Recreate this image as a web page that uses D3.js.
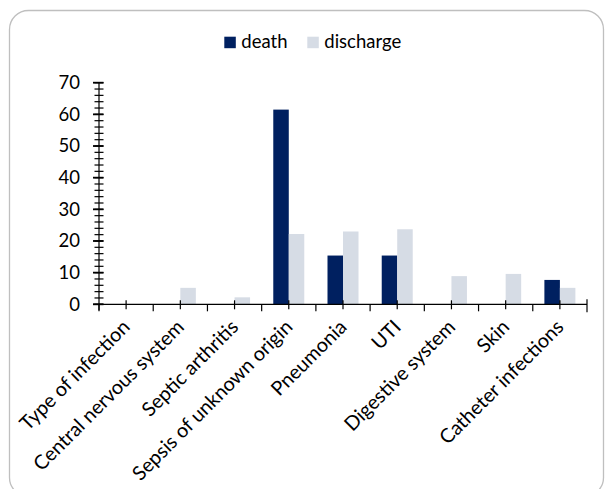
<!DOCTYPE html>
<html>
<head>
<meta charset="utf-8">
<script src="https://cdn.jsdelivr.net/npm/d3@7"></script>
<style>
  html, body { margin: 0; padding: 0; background: #fff; }
  svg { display: block; font-family: Lato, "Open Sans", sans-serif; }
</style>
</head>
<body>
<svg id="chart" width="606" height="489"></svg>
<script>
// Infection type by outcome (% of patients in each outcome group)
const categories = [
  "Type of infection",
  "Central nervous system",
  "Septic arthritis",
  "Sepsis of unknown origin",
  "Pneumonia",
  "UTI",
  "Digestive system",
  "Skin",
  "Catheter infections"
];
const deathValues     = [0, 0, 0, 61.5, 15.4, 15.4, 0, 0, 7.7];
const dischargeValues = [0, 5.2, 2.2, 22.2, 23.0, 23.7, 8.9, 9.6, 5.2];
const seriesNames = ["death", "discharge"];
const yTicks = [0, 10, 20, 30, 40, 50, 60, 70];
const yMinorTicks = d3.range(0, 71, 2);

const colors = { death: "#002060", discharge: "#D6DCE5" };

const svg = d3.select("#chart");

// Rounded frame around the chart area
svg.append("rect")
  .attr("x", 9.5).attr("y", 10.5)
  .attr("width", 594).attr("height", 486)
  .attr("rx", 19).attr("ry", 19)
  .attr("fill", "#fff")
  .attr("stroke", "#BFBFBF")
  .attr("stroke-width", 1.3);

const plot = { left: 99, right: 587, top: 82.7, bottom: 304.3 };

const x = d3.scaleBand()
  .domain(categories)
  .range([plot.left, plot.right])
  .paddingInner(0).paddingOuter(0);

const barW = 15.5;
const y = d3.scaleLinear().domain([0, 70]).range([plot.bottom, plot.top]);

const series = [
  { name: "death", values: deathValues, offset: -barW },
  { name: "discharge", values: dischargeValues, offset: 0 }
];

// Bars
const bars = svg.append("g");
series.forEach(s => {
  bars.selectAll(null)
    .data(categories.map((c, i) => ({ c, v: s.values[i] })).filter(d => d.v > 0))
    .join("rect")
    .attr("x", d => x(d.c) + x.bandwidth() / 2 + s.offset)
    .attr("y", d => y(d.v))
    .attr("width", barW)
    .attr("height", d => y(0) - y(d.v))
    .attr("fill", colors[s.name]);
});

// Y axis: line, minor ticks every 2, major ticks every 10
const yAxisG = svg.append("g").attr("stroke", "#000").attr("stroke-width", 1.2);
yAxisG.append("line")
  .attr("x1", plot.left).attr("x2", plot.left)
  .attr("y1", y(70)).attr("y2", plot.bottom + 6);
yAxisG.selectAll(".minor")
  .data(yMinorTicks)
  .join("line")
  .attr("x1", plot.left - 4.5).attr("x2", plot.left + 4.5)
  .attr("y1", d => y(d)).attr("y2", d => y(d));
yAxisG.selectAll(".major")
  .data(yTicks)
  .join("line")
  .attr("stroke-width", 1.8)
  .attr("x1", plot.left - 6).attr("x2", plot.left + 4.5)
  .attr("y1", d => y(d)).attr("y2", d => y(d));

svg.append("g")
  .selectAll("text")
  .data(yTicks)
  .join("text")
  .attr("x", 80)
  .attr("y", d => y(d))
  .attr("dy", "0.35em")
  .attr("text-anchor", "end")
  .attr("font-size", 18.5)
  .attr("fill", "#000")
  .text(d => d);

// X axis: baseline, ticks at category centres (crossing) and boundaries (outside)
const xAxisG = svg.append("g").attr("stroke", "#000").attr("stroke-width", 1.2);
xAxisG.append("line")
  .attr("x1", plot.left - 6).attr("x2", plot.right)
  .attr("y1", plot.bottom).attr("y2", plot.bottom);
xAxisG.selectAll(".centre")
  .data(categories)
  .join("line")
  .attr("x1", d => x(d) + x.bandwidth() / 2)
  .attr("x2", d => x(d) + x.bandwidth() / 2)
  .attr("y1", plot.bottom - 4).attr("y2", plot.bottom + 5);
const bounds = categories.map(c => x(c)).concat([plot.right]);
xAxisG.selectAll(".bound")
  .data(bounds)
  .join("line")
  .attr("x1", d => d).attr("x2", d => d)
  .attr("y1", (d, i) => i === bounds.length - 1 ? plot.bottom - 5 : plot.bottom)
  .attr("y2", (d, i) => i === bounds.length - 1 ? plot.bottom + 8 : plot.bottom + 7);

// Rotated category labels
svg.append("g")
  .selectAll("text")
  .data(categories)
  .join("text")
  .attr("transform", d => `translate(${x(d) + x.bandwidth() / 2 + 5},${plot.bottom + 24}) rotate(-45)`)
  .attr("text-anchor", "end")
  .attr("font-size", 19.8)
  .attr("fill", "#000")
  .text(d => d);

// Legend
const legend = svg.append("g");
const legendItems = [
  { name: seriesNames[0], x: 224.3 },
  { name: seriesNames[1], x: 307.3 }
];
legendItems.forEach(it => {
  legend.append("rect")
    .attr("x", it.x).attr("y", 36.7)
    .attr("width", 11.5).attr("height", 11.5)
    .attr("fill", colors[it.name]);
  legend.append("text")
    .attr("x", it.x + 17).attr("y", 48.3)
    .attr("font-size", 18.5)
    .attr("fill", "#000")
    .text(it.name);
});
</script>
</body>
</html>
